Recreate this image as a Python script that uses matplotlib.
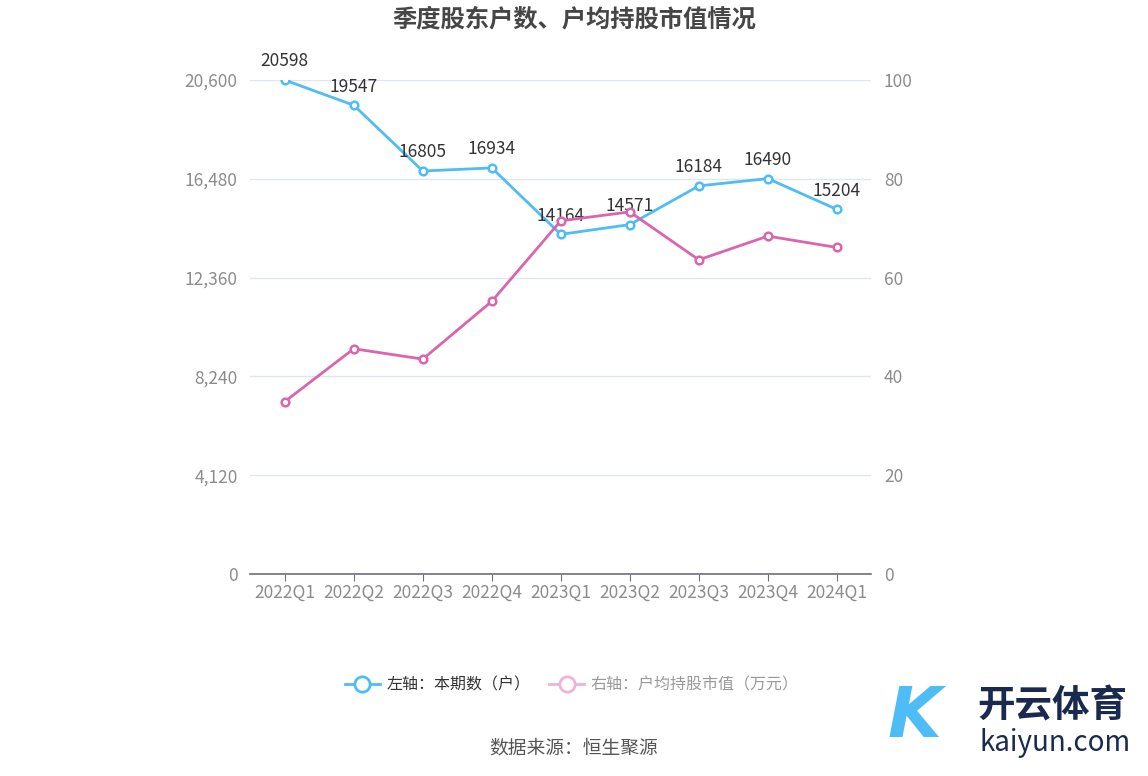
import matplotlib
matplotlib.use("Agg")
import matplotlib.pyplot as plt
from matplotlib.lines import Line2D

plt.rcParams['font.family'] = ['Noto Sans CJK SC', 'DejaVu Sans']

quarters = ['2022Q1', '2022Q2', '2022Q3', '2022Q4', '2023Q1', '2023Q2', '2023Q3', '2023Q4', '2024Q1']
holders = [20598, 19547, 16805, 16934, 14164, 14571, 16184, 16490, 15204]
avg_value = [34.9, 45.6, 43.5, 55.2, 71.5, 73.3, 63.6, 68.4, 66.1]
left_ticks = [0, 4120, 8240, 12360, 16480, 20600]
right_ticks = [0, 20, 40, 60, 80, 100]

blue = '#4fbdf5'
pink = '#d966ad'
grid_c = '#e0e6f1'
label_c = '#8c8c8c'

fig = plt.figure(figsize=(11.48, 7.76), dpi=100)
ax = fig.add_axes([0.218, 0.2603, 0.541, 0.6366])
ax2 = ax.twinx()

x = list(range(len(quarters)))
ax.plot(x, holders, color=blue, lw=2, marker='o', ms=5.5, mfc='white', mec=blue, mew=1.8, zorder=3)
ax2.plot(x, avg_value, color=pink, lw=2, marker='o', ms=5.5, mfc='white', mec=pink, mew=1.8, zorder=3)

for xi, v in zip(x, holders):
    ax.annotate(str(v), (xi, v), xytext=(0, 7), textcoords='offset points',
                ha='center', va='bottom', fontsize=12.5, color='#333333', zorder=5)

ax.set_xlim(-0.5, len(quarters) - 0.5)
ax.set_ylim(0, 20600)
ax2.set_ylim(0, 100)
ax.set_yticks(left_ticks)
ax.set_yticklabels([f'{t:,}' for t in left_ticks])
ax2.set_yticks(right_ticks)
ax.set_xticks(x)
ax.set_xticklabels(quarters)

ax.grid(axis='y', color=grid_c, lw=1)
ax.set_axisbelow(True)
for a in (ax, ax2):
    for s in ['top', 'left', 'right', 'bottom']:
        a.spines[s].set_visible(False)
ax.spines['bottom'].set_visible(True)
ax.spines['bottom'].set_color('#6e7079')
ax.spines['bottom'].set_linewidth(1.2)

ax.tick_params(axis='y', length=0, labelsize=12.5, labelcolor=label_c, pad=9)
ax2.tick_params(axis='y', length=0, labelsize=12.5, labelcolor=label_c, pad=9)
ax.tick_params(axis='x', length=5, color='#6e7079', labelsize=12.5, labelcolor=label_c, pad=2)

fig.text(0.5, 0.975, '季度股东户数、户均持股市值情况', ha='center', va='center',
         fontsize=17.5, fontweight='bold', color='#464646')

handles = [
    Line2D([0], [0], color=blue, lw=2, marker='o', ms=11, mfc='white', mec=blue, mew=2),
    Line2D([0], [0], color='#eeb3d6', lw=2, marker='o', ms=11, mfc='white', mec='#eeb3d6', mew=2),
]
leg = fig.legend(handles, ['左轴：本期数（户）', '右轴：户均持股市值（万元）'], loc='center',
                 bbox_to_anchor=(0.498, 0.117), ncol=2, frameon=False, fontsize=11.5,
                 handlelength=2.2, columnspacing=1.2, handletextpad=0.4)
leg.get_texts()[0].set_color('#333333')
leg.get_texts()[1].set_color('#999999')

fig.text(0.5, 0.036, '数据来源：恒生聚源', ha='center', va='center', fontsize=13.5, color='#555555')

# watermark
fig.text(0.851, 0.090, '开云体育', ha='left', va='center', fontsize=27, fontweight='bold', color='#1a2a4f')
fig.text(0.853, 0.042, 'kaiyun.com', ha='left', va='center', fontsize=20, color='#1a2a4f')
fig.text(0.797, 0.075, 'K', ha='center', va='center', fontsize=50, fontstyle='italic',
         fontweight='bold', color=blue, family=['DejaVu Sans'])

fig.savefig('out.png', dpi=100)
